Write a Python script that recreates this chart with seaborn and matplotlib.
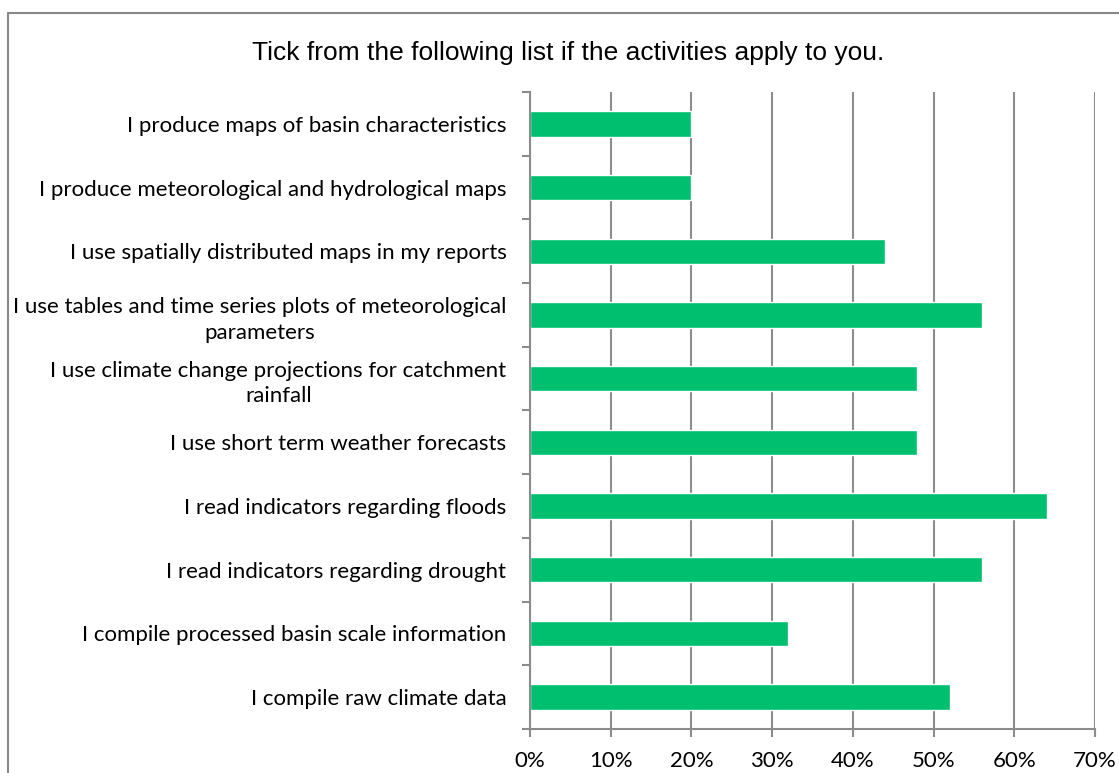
import matplotlib
matplotlib.use("Agg")
import matplotlib.pyplot as plt
import matplotlib.ticker as mticker
from matplotlib.lines import Line2D
import numpy as np
import pandas as pd
import seaborn as sns

activities = [
    "I produce maps of basin characteristics",
    "I produce meteorological and hydrological maps",
    "I use spatially distributed maps in my reports",
    "I use tables and time series plots of meteorological\nparameters",
    "I use climate change projections for catchment\nrainfall",
    "I use short term weather forecasts",
    "I read indicators regarding floods",
    "I read indicators regarding drought",
    "I compile processed basin scale information",
    "I compile raw climate data",
]
shares = [0.20, 0.20, 0.44, 0.56, 0.48, 0.48, 0.64, 0.56, 0.32, 0.52]
x_ticks = [0.0, 0.1, 0.2, 0.3, 0.4, 0.5, 0.6, 0.7]

title = "Tick from the following list if the activities apply to you."

sns.set_theme(style="white")
label_font = ["Lato", "DejaVu Sans"]
title_font = ["Liberation Sans", "DejaVu Sans"]

df = pd.DataFrame({"activity": activities, "share": shares})

W, H = 1119, 773
fig = plt.figure(figsize=(W / 100, H / 100), dpi=100)
ax = fig.add_axes([530 / W, 1 - 729 / H, (1095 - 530) / W, (729 - 92) / H])

bar_green = "#00BF6F"
grid_grey = "#8C8C8C"

sns.barplot(data=df, x="share", y="activity", orient="h", color=bar_green,
            saturation=1, width=0.4, ax=ax)

n = len(activities)
ax.set_xlim(0, 0.7)
ax.set_ylim(n - 0.5, -0.5)
ax.set_xticks(x_ticks)
ax.xaxis.set_major_formatter(mticker.PercentFormatter(1.0, decimals=0))
ax.set_xlabel("")
ax.set_ylabel("")

# vertical gridlines
ax.grid(axis="x", color=grid_grey, linewidth=1.5)
ax.grid(axis="y", visible=False)
ax.set_axisbelow(True)

for side in ("top", "right"):
    ax.spines[side].set_visible(False)
for side in ("left", "bottom"):
    ax.spines[side].set_color(grid_grey)
    ax.spines[side].set_linewidth(1.5)

# category labels at centres, boundary tick marks between categories
ax.set_yticks(np.arange(n))
ax.set_yticklabels(activities, fontfamily=label_font, fontsize=16, color="#000000")
for lbl in ax.get_yticklabels():
    lbl.set_multialignment("center")
    lbl.set_linespacing(1.35)
ax.tick_params(axis="y", which="major", length=0, pad=17)
ax.set_yticks(np.arange(n + 1) - 0.5, minor=True)
ax.tick_params(axis="y", which="minor", left=True, length=6, width=1.5, color=grid_grey)

ax.tick_params(axis="x", which="major", bottom=True, length=6, width=1.5,
               color=grid_grey, pad=10, labelsize=16)
for lbl in ax.get_xticklabels():
    lbl.set_fontfamily(label_font)
    lbl.set_color("#000000")

fig.text(568 / W, 1 - 53 / H, title, ha="center", va="center",
         fontsize=19, fontfamily=title_font, color="#000000")

# chart frame
frame_kw = dict(color="#888888", linewidth=1.5, transform=fig.transFigure)
fig.add_artist(Line2D([8 / W, 8 / W], [1 - 13 / H, -0.01], **frame_kw))
fig.add_artist(Line2D([8 / W, 1.01], [1 - 13 / H, 1 - 13 / H], **frame_kw))

fig.savefig("out.png", dpi=100, facecolor="white")
